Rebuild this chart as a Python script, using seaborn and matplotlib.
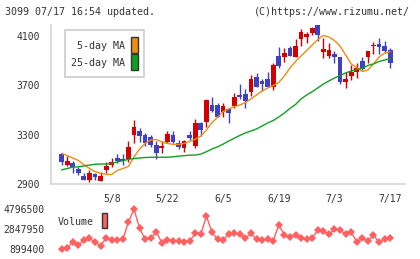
import numpy as np
import pandas as pd
import matplotlib
matplotlib.use("Agg")
import matplotlib.pyplot as plt
import seaborn as sns
from matplotlib.patches import Rectangle

# trading days (Tokyo), 2025-04-21 .. 2025-07-17
holidays = ['2025-04-29', '2025-05-05', '2025-05-06']
dates = pd.bdate_range('2025-04-21', '2025-07-17', freq='C', holidays=holidays)
tick_labels = ['5/8', '5/22', '6/5', '6/19', '7/3', '7/17']

opens = [3108, 3143, 3054, 3073, 3022, 2965, 2932, 2981, 2927, 3011,
         3054, 3113, 3100, 3105, 3295, 3330, 3297, 3284, 3216, 3195,
         3243, 3297, 3235, 3195, 3297, 3208, 3392, 3405, 3541, 3541,
         3487, 3506, 3533, 3622, 3630, 3649, 3765, 3738, 3752, 3689,
         3938, 3927, 4006, 3933, 4076, 4095, 4127, 4186, 3970, 3938,
         3954, 3930, 3730, 3779, 3806, 3898, 3933, 4022, 4035, 4019, 3987]
highs = [3112, 3154, 3127, 3087, 3040, 2987, 3014, 2992, 3000, 3081,
         3108, 3141, 3143, 3249, 3419, 3352, 3314, 3297, 3251, 3251,
         3332, 3333, 3257, 3257, 3330, 3427, 3405, 3589, 3608, 3560,
         3554, 3514, 3641, 3711, 3668, 3784, 3798, 3749, 3811, 3879,
         4013, 4000, 4019, 4076, 4157, 4135, 4176, 4190, 4082, 4046,
         3979, 3930, 3811, 3865, 3879, 3930, 3979, 4049, 4082, 4060, 4000]
lows = [3108, 3054, 3046, 2992, 2973, 2932, 2919, 2932, 2925, 2992,
        3040, 3068, 3052, 3081, 3230, 3243, 3208, 3197, 3100, 3149,
        3230, 3230, 3181, 3162, 3257, 3189, 3292, 3365, 3487, 3446,
        3446, 3397, 3514, 3587, 3514, 3614, 3689, 3654, 3689, 3662,
        3838, 3892, 3941, 3933, 4022, 4046, 4108, 4062, 3925, 3925,
        3879, 3711, 3681, 3743, 3762, 3825, 3879, 3952, 3952, 3960, 3845]
closes = [3112, 3078, 3087, 3035, 2992, 2932, 2992, 2959, 2965, 3048,
          3081, 3089, 3084, 3198, 3360, 3292, 3230, 3216, 3149, 3212,
          3306, 3243, 3203, 3249, 3270, 3397, 3338, 3581, 3495, 3446,
          3533, 3478, 3603, 3603, 3576, 3749, 3689, 3711, 3689, 3865,
          3857, 3960, 3941, 4019, 4130, 4117, 4163, 4108, 3995, 3987,
          3927, 3730, 3752, 3811, 3844, 3833, 3979, 4027, 4014, 3981, 3884]

# moving averages as drawn (from day 2 on)
ma5 = [3149, 3131, 3111, 3091, 3058, 3026, 3001, 2987, 2979,
       2977, 3010, 3026, 3042, 3119, 3184, 3229, 3257, 3261, 3241,
       3229, 3222, 3222, 3229, 3245, 3263, 3289, 3338, 3399, 3440,
       3488, 3509, 3527, 3541, 3561, 3590, 3622, 3655, 3679, 3699,
       3724, 3776, 3841, 3894, 3939, 3983, 4028, 4072, 4105, 4093,
       4064, 4020, 3947, 3874, 3845, 3813, 3825, 3874, 3930, 3963, 3973]
ma25 = [3014, 3026, 3036, 3040, 3046, 3054, 3060, 3062, 3062,
        3066, 3079, 3089, 3100, 3107, 3111, 3115, 3117, 3117, 3117,
        3117, 3121, 3126, 3130, 3134, 3135, 3143, 3162, 3184, 3202,
        3223, 3249, 3271, 3294, 3314, 3330, 3346, 3371, 3395, 3415,
        3444, 3476, 3513, 3545, 3590, 3622, 3649, 3679, 3711, 3736,
        3760, 3780, 3801, 3817, 3829, 3839, 3862, 3874, 3894, 3906, 3918]
volume = [899400, 1026000, 1552000, 1289000, 1776000, 1942000, 1552000, 1221000, 1971000,
          1776000, 1776000, 1844000, 3501000, 4796500, 2916000, 1844000, 1942000, 2585000, 1513000,
          1776000, 1708000, 1679000, 1611000, 1679000, 2429000, 2332000, 4115000, 2526000, 1844000,
          1776000, 2332000, 2429000, 2361000, 1942000, 2429000, 1844000, 1776000, 1844000, 1708000,
          3238000, 2263000, 2039000, 2263000, 1942000, 1844000, 1942000, 2751000, 2653000, 2332000,
          2819000, 2751000, 2332000, 2526000, 1611000, 1942000, 1708000, 2263000, 1552000, 1844000, 1942000]
vol_ticks = [899400, 2847950, 4796500]
price_ticks = [2900, 3300, 3700, 4100]

sns.set_style("white")
plt.rcParams['font.family'] = ['DejaVu Sans Mono']
FS = 7.0
FS_HEAD = 7.2
TXT = '#333333'
GRID = '#d4d4d4'
RED, BLUE = '#d40000', '#4040c0'
ORANGE, GREEN, VOLC = '#f08c10', '#10a020', '#ff6060'

W, H = 420, 259
def fx(x): return x / W
def fy(y): return 1 - y / H

fig = plt.figure(figsize=(W / 100, H / 100), dpi=100)
ax = fig.add_axes([fx(51), fy(184), 354 / W, 159 / H])
axv = fig.add_axes([fx(51), fy(254), 354 / W, 50 / H])

x = np.arange(len(dates))
o, h, l, c = map(np.array, (opens, highs, lows, closes))
cols = np.where(c >= o, RED, BLUE)
body_lo = np.minimum(o, c)
body_h = np.maximum(np.abs(c - o), 7)

ax.vlines(x, l, h, colors=cols, lw=1, zorder=2)
ax.bar(x, body_h, bottom=body_lo, width=0.85, color=cols, lw=0, zorder=3)

sns.lineplot(x=x[1:], y=ma5, ax=ax, color=ORANGE, lw=1, zorder=4)
sns.lineplot(x=x[1:], y=ma25, ax=ax, color=GREEN, lw=1, zorder=4)

ax.set_xlim(-0.9, 62.66)
ax.set_ylim(2900, 4190)
ax.set_yticks(price_ticks)
ax.set_yticklabels([str(t) for t in price_ticks])
day_str = [f"{d.month}/{d.day}" for d in dates]
ax.set_xticks([day_str.index(t) for t in tick_labels])
ax.set_xticklabels(tick_labels)
ax.set_xticks(np.linspace(-0.9, 62.66, 12), minor=True)
ax.tick_params(axis='x', which='major', length=0, pad=7.5, labelsize=FS, labelcolor=TXT)
ax.tick_params(axis='x', which='minor', direction='inout', length=6, width=1.2, color=GRID)
ax.tick_params(axis='y', direction='inout', length=7, width=1.2, color=GRID,
               pad=4.5, labelsize=FS, labelcolor=TXT)
for s in ['top', 'right']:
    ax.spines[s].set_visible(False)
for s in ['left', 'bottom']:
    ax.spines[s].set_color(GRID)
    ax.spines[s].set_linewidth(1.2)
ax.set_xlabel('')
ax.set_ylabel('')

# volume panel
sns.lineplot(x=x[1:], y=volume, ax=axv, color=VOLC, lw=1, marker='D',
             markersize=4.2, markeredgewidth=0)
axv.set_xlim(-0.9, 62.66)
axv.set_ylim(899400 - 5 * 97427, 4796500 + 5 * 97427)
axv.set_yticks(vol_ticks)
axv.set_yticklabels([str(t) for t in vol_ticks])
axv.set_xticks([])
axv.tick_params(axis='y', length=0, pad=4.5, labelsize=FS, labelcolor=TXT)
for s in axv.spines.values():
    s.set_visible(False)
axv.set_xlabel('')
axv.set_ylabel('')

# header
fig.text(fx(5), fy(12), "3099 07/17 16:54 updated.", ha='left', va='center', fontsize=FS_HEAD, color=TXT)
fig.text(fx(410), fy(12), "(C)https://www.rizumu.net/", ha='right', va='center', fontsize=FS_HEAD, color=TXT)

# MA legend box
fig.add_artist(Rectangle((fx(65), fy(77)), 79 / W, 47 / H, transform=fig.transFigure,
                         facecolor='white', edgecolor='#cccccc', lw=1.2, zorder=5))
fig.text(fx(125), fy(46), "5-day MA", ha='right', va='center', fontsize=FS_HEAD, color=TXT, zorder=6)
fig.text(fx(125), fy(63), "25-day MA", ha='right', va='center', fontsize=FS_HEAD, color=TXT, zorder=6)
fig.add_artist(Rectangle((fx(131), fy(53)), 7 / W, 16 / H, transform=fig.transFigure,
                         facecolor=ORANGE, edgecolor='#333333', lw=1, zorder=6))
fig.add_artist(Rectangle((fx(131), fy(70)), 7 / W, 16 / H, transform=fig.transFigure,
                         facecolor=GREEN, edgecolor='#333333', lw=1, zorder=6))

# volume legend
fig.text(fx(58), fy(222), "Volume", ha='left', va='center', fontsize=FS_HEAD, color=TXT)
fig.add_artist(Rectangle((fx(102), fy(228)), 5.5 / W, 15 / H, transform=fig.transFigure,
                         facecolor=VOLC, edgecolor='#333333', lw=1, zorder=6))

fig.savefig("out.png", dpi=100)
